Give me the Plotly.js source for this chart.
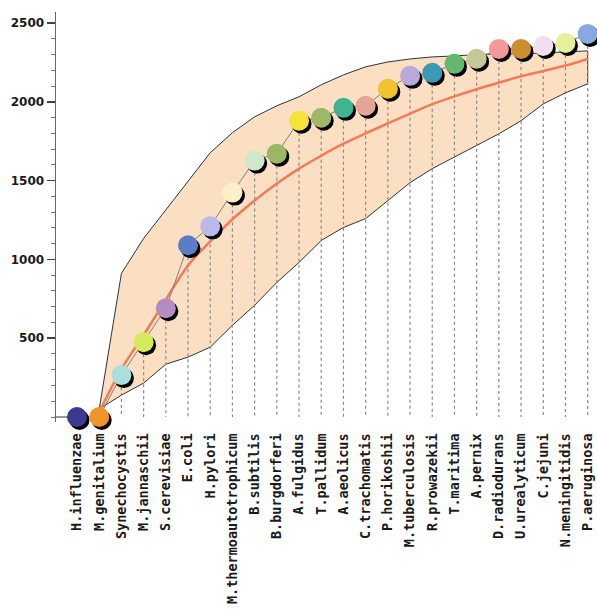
<!DOCTYPE html>
<html><head><meta charset="utf-8">
<script src="https://cdn.plot.ly/plotly-3.0.1.min.js"></script>
<style>body{margin:0;background:#fff}#chart{width:597px;height:612px}</style>
</head><body><div id="chart"></div>
<script>
const species = ["H.influenzae","M.genitalium","Synechocystis","M.jannaschii","S.cerevisiae","E.coli","H.pylori","M.thermoautotrophicum","B.subtilis","B.burgdorferi","A.fulgidus","T.pallidum","A.aeolicus","C.trachomatis","P.horikoshii","M.tuberculosis","R.prowazekii","T.maritima","A.pernix","D.radiodurans","U.urealyticum","C.jejuni","N.meningitidis","P.aeruginosa"];
const values = [0,0,266,475,690,1090,1210,1424,1627,1671,1880,1899,1962,1975,2083,2165,2184,2241,2273,2336,2336,2355,2374,2431];
const bandUpper = [null,50,911,1133,1316,1495,1677,1804,1905,1975,2032,2108,2171,2222,2253,2272,2285,2291,2300,2304,2304,2310,2316,2323];
const bandLower = [null,50,139,215,335,380,443,582,709,854,981,1120,1203,1259,1373,1487,1576,1646,1722,1797,1880,1987,2057,2114];
const fitCurve = [null,30,304,520,745,962,1114,1255,1373,1481,1576,1658,1734,1800,1863,1925,1985,2035,2080,2121,2162,2196,2230,2272];
const colors = ["#3d3890","#f0952a","#a9dfdc","#d6ea5a","#b58cc2","#5a7dc4","#b9b9ea","#fcefc9","#cfe8cc","#9db665","#f7e23a","#9fb866","#3fb48f","#e3a596","#f3c22f","#b9a8da","#3a9ab6","#63b96b","#c7c897","#f29a9a","#c98f2e","#efdff0","#e7ef98","#87a9dd"];

const idx = species.map((_, i) => i);

const bx = [], by = [];
for (let i = 0; i < idx.length; i++) if (bandUpper[i] != null) { bx.push(i); by.push(bandUpper[i]); }
for (let i = idx.length - 1; i >= 0; i--) if (bandLower[i] != null) { bx.push(i); by.push(bandLower[i]); }

const dx = [], dy = [];
idx.forEach(i => { if (values[i] > 0) { dx.push(i, i, null); dy.push(values[i], 0, null); } });

const fx = [], fy = [];
idx.forEach(i => { if (fitCurve[i] != null) { fx.push(i); fy.push(fitCurve[i]); } });

const pxPerCat = 22.2, unitsPerPx = 6.346;
const shX = idx.map(i => i + 2.5 / pxPerCat);
const shY = values.map(v => v - 3 * unitsPerPx);

const traces = [
  {x: bx, y: by, mode: 'lines', fill: 'toself', fillcolor: '#fbdfc3', line: {color: '#333', width: 1}, hoverinfo: 'skip'},
  {x: dx, y: dy, mode: 'lines', line: {color: '#8a8a8a', width: 1.2, dash: '3px,3px'}, hoverinfo: 'skip'},
  {x: fx, y: fy, mode: 'lines', line: {color: '#f47a5c', width: 2.5, shape: 'spline', smoothing: 1}, hoverinfo: 'skip'},
  {x: idx, y: values, mode: 'lines', line: {color: '#808080', width: 1}, hoverinfo: 'skip'},
  {x: [-0.946, 0], y: [0, 0], mode: 'lines', line: {color: '#777', width: 1.5}, hoverinfo: 'skip'},
  {x: shX, y: shY, mode: 'markers', marker: {size: 20, color: '#000'}, cliponaxis: false, hoverinfo: 'skip'},
  {x: idx, y: values, mode: 'markers', marker: {size: 20, color: colors}, cliponaxis: false}
];

const layout = {
  width: 597, height: 612,
  margin: {l: 56, r: 0, t: 12, b: 190},
  paper_bgcolor: '#fff', plot_bgcolor: '#fff',
  showlegend: false,
  xaxis: {
    range: [-0.946, 23.42], showgrid: false, zeroline: false, showline: false,
    tickmode: 'array', tickvals: idx, ticktext: species, tickangle: -90,
    ticks: 'outside', ticklen: 5, tickcolor: 'rgba(0,0,0,0)',
    tickfont: {family: 'DejaVu Sans Mono', size: 13.5, weight: 'bold', color: '#1a1a1a'}
  },
  yaxis: {
    range: [-31.7, 2570], showgrid: false, zeroline: false,
    showline: true, linecolor: '#666', linewidth: 1.5,
    tickmode: 'array', tickvals: [500, 1000, 1500, 2000, 2500],
    ticks: 'outside', ticklen: 8, tickwidth: 1.5, tickcolor: '#444',
    minor: {tick0: 0, dtick: 100, ticks: 'outside', ticklen: 4, tickcolor: '#777', tickwidth: 1},
    tickfont: {family: 'DejaVu Sans', size: 12, weight: 'bold', color: '#1a1a1a'}
  }
};

Plotly.newPlot('chart', traces, layout, {displayModeBar: false, staticPlot: true});
</script></body></html>
